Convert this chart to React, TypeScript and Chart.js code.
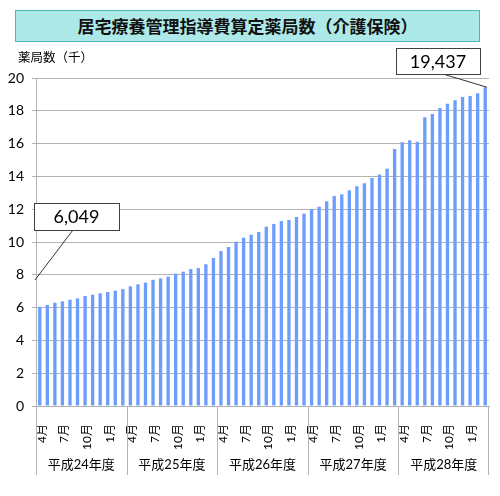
import { useEffect, useRef } from "react";
import Chart from "chart.js/auto";
import type { Plugin } from "chart.js";

const fiscalYears = ["平成24年度", "平成25年度", "平成26年度", "平成27年度", "平成28年度"];
const monthLabels = ["4月", "5月", "6月", "7月", "8月", "9月", "10月", "11月", "12月", "1月", "2月", "3月"];
const shownMonths = ["4月", "7月", "10月", "1月"];
const yTicks = [0, 2, 4, 6, 8, 10, 12, 14, 16, 18, 20];

// 薬局数 (千)
const fy24 = [6.049, 6.16, 6.3, 6.38, 6.48, 6.56, 6.71, 6.79, 6.87, 6.95, 7.03, 7.13];
const fy25 = [7.3, 7.42, 7.52, 7.7, 7.78, 7.89, 8.07, 8.19, 8.35, 8.41, 8.64, 9.02];
const fy26 = [9.45, 9.7, 10.02, 10.26, 10.45, 10.61, 10.93, 11.1, 11.28, 11.34, 11.52, 11.73];
const fy27 = [12.01, 12.15, 12.48, 12.8, 12.91, 13.15, 13.4, 13.58, 13.9, 14.11, 14.47, 15.67];
const fy28 = [16.08, 16.2, 16.12, 17.6, 17.8, 18.17, 18.43, 18.64, 18.84, 18.9, 19.07, 19.437];

const FONT = "Lato, 'Noto Sans CJK JP', sans-serif";
const GRID = "#b3b3b3";

const fmt = (v: number) => Math.round(v * 1000).toLocaleString("en-US");

const annotations: Plugin<"bar"> = {
    id: "annotations",
    afterDraw(chart) {
        const ctx = chart.ctx;
        const x = chart.scales.x;
        const area = chart.chartArea;
        const values = chart.data.datasets[0].data as number[];
        ctx.save();

        // y axis title
        ctx.fillStyle = "#000";
        ctx.font = `12.5px ${FONT}`;
        ctx.textAlign = "left";
        ctx.textBaseline = "middle";
        ctx.fillText("薬局数（千）", 18, 58);

        // fiscal year groups
        ctx.strokeStyle = GRID;
        ctx.lineWidth = 1;
        ctx.font = `13px ${FONT}`;
        ctx.textAlign = "center";
        fiscalYears.forEach((fy, k) => {
            const first = k * 12;
            const last = first + 11;
            const left = k === 0 ? area.left : (x.getPixelForValue(first - 1) + x.getPixelForValue(first)) / 2;
            ctx.beginPath();
            ctx.moveTo(Math.round(left) + 0.5, area.bottom);
            ctx.lineTo(Math.round(left) + 0.5, 475);
            ctx.stroke();
            const mid = (x.getPixelForValue(first) + x.getPixelForValue(last)) / 2;
            ctx.fillText(fy, mid, 465);
        });
        ctx.beginPath();
        ctx.moveTo(Math.round(area.right) - 0.5, area.bottom);
        ctx.lineTo(Math.round(area.right) - 0.5, 475);
        ctx.stroke();

        // callouts
        const bars = chart.getDatasetMeta(0).data;
        const lastBar = bars[bars.length - 1] as any;
        const callout = (text: string, bx: number, by: number, bw: number, bh: number, fromX: number, toX: number, toY: number) => {
            ctx.strokeStyle = "#333";
            ctx.lineWidth = 1;
            ctx.beginPath();
            ctx.moveTo(fromX, by + bh);
            ctx.lineTo(toX, toY);
            ctx.stroke();
            ctx.fillStyle = "#fff";
            ctx.fillRect(bx, by, bw, bh);
            ctx.strokeStyle = "#404040";
            ctx.strokeRect(bx + 0.5, by + 0.5, bw, bh);
            ctx.fillStyle = "#000";
            ctx.font = `18px ${FONT}`;
            ctx.textAlign = "center";
            ctx.textBaseline = "middle";
            ctx.fillText(text, bx + bw / 2, by + bh / 2 + 1);
        };
        callout(fmt(values[0]), 34, 203, 85, 27, 73, area.left - 1, 280);
        callout(fmt(values[values.length - 1]), 396, 48, 84, 26, 443, lastBar.x + lastBar.width / 2, lastBar.y);

        ctx.restore();
    },
};

export default function App() {
    const canvasRef = useRef<HTMLCanvasElement | null>(null);
    const chartRef = useRef<Chart | null>(null);

    useEffect(() => {
        const canvas = canvasRef.current;
        if (!canvas) {
            return;
        }
        if (chartRef.current) {
            chartRef.current.destroy();
        }

        const labels = fiscalYears.flatMap(() => monthLabels);
        const values = [...fy24, ...fy25, ...fy26, ...fy27, ...fy28];

        chartRef.current = new Chart(canvas, {
            type: "bar",
            data: {
                labels,
                datasets: [
                    {
                        data: values,
                        backgroundColor: "#6d9dff",
                        borderWidth: 0,
                        barPercentage: 0.44,
                        categoryPercentage: 1,
                    },
                ],
            },
            options: {
                animation: false,
                responsive: true,
                maintainAspectRatio: false,
                layout: { padding: { top: 78, left: 0, right: 11, bottom: 0 } },
                scales: {
                    x: {
                        grid: { display: false },
                        border: { color: GRID },
                        afterFit: (scale: any) => {
                            scale.height = 90;
                            scale.paddingLeft = 0;
                            scale.paddingRight = 0;
                        },
                        ticks: {
                            autoSkip: false,
                            maxRotation: 90,
                            minRotation: 90,
                            padding: 10,
                            labelOffset: 2,
                            color: "#000",
                            font: { family: FONT, size: 12 },
                            callback: (_v, i) => (shownMonths.includes(labels[i]) ? labels[i] : ""),
                        },
                    },
                    y: {
                        min: yTicks[0],
                        max: yTicks[yTicks.length - 1],
                        afterFit: (scale: any) => {
                            scale.width = 36;
                            scale.paddingTop = 0;
                            scale.paddingBottom = 0;
                        },
                        afterBuildTicks: (scale) => {
                            scale.ticks = yTicks.map((value) => ({ value }));
                        },
                        grid: { color: GRID, tickLength: 4 },
                        border: { color: GRID },
                        ticks: {
                            padding: 8,
                            color: "#000",
                            font: { family: FONT, size: 14 },
                        },
                    },
                },
                plugins: {
                    legend: { display: false },
                    tooltip: { enabled: false },
                },
            },
            plugins: [annotations],
        });

        return () => {
            if (chartRef.current) {
                chartRef.current.destroy();
                chartRef.current = null;
            }
        };
    }, []);

    return (
        <div style={{ position: "absolute", left: 0, top: 0, width: 500, height: 496, background: "#fff" }}>
            <div
                style={{
                    position: "absolute",
                    left: 15,
                    top: 10,
                    width: 465,
                    height: 32,
                    boxSizing: "border-box",
                    background: "#aee9e9",
                    border: "1px solid #48b7b7",
                    fontFamily: "'Noto Sans CJK JP', sans-serif",
                    fontWeight: 700,
                    fontSize: 17,
                    lineHeight: "30px",
                    textAlign: "center",
                    color: "#111",
                }}
            >
                居宅療養管理指導費算定薬局数（介護保険）
            </div>
            <div style={{ position: "absolute", left: 0, top: 0, width: 500, height: 496 }}>
                <canvas ref={canvasRef} />
            </div>
        </div>
    );
}
